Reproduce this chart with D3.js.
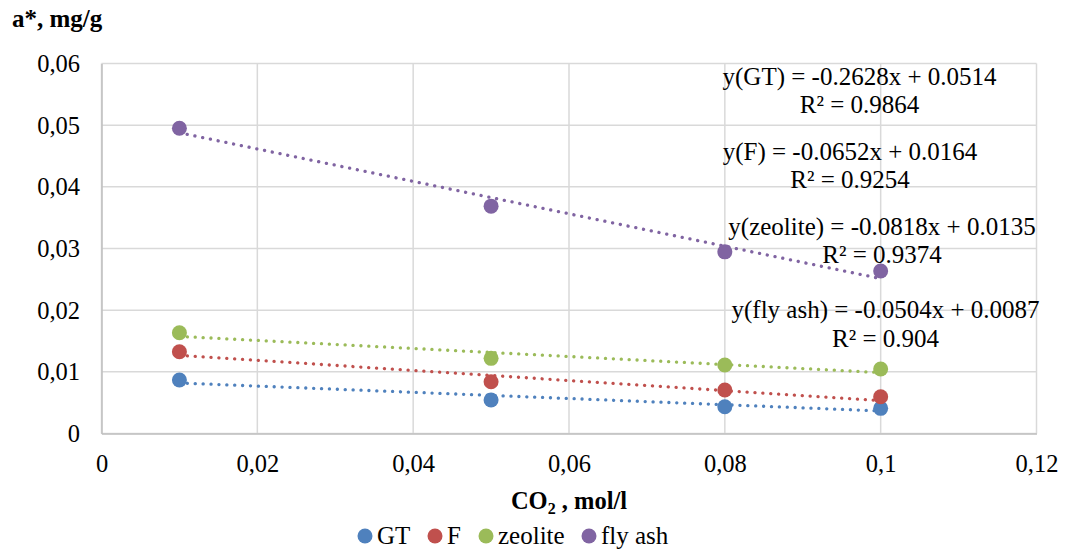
<!DOCTYPE html>
<html><head><meta charset="utf-8">
<script src="https://cdn.jsdelivr.net/npm/d3@7"></script>
<style>body{margin:0;background:#fff}svg{display:block}svg text{font-family:"Times New Roman","Liberation Serif",Times,serif !important;fill:#000}</style>
</head><body><svg id="c" width="1066" height="552"></svg>
<script>
const xValues = [0.01, 0.05, 0.08, 0.1];
const seriesNames = ["GT", "F", "zeolite", "fly ash"];
const seriesColors = ["#4f81bd", "#c0504d", "#9bbb59", "#8064a2"];
const gtValues = [0.00867, 0.00543, 0.00434, 0.00408];
const fValues = [0.01326, 0.0084, 0.00705, 0.00596];
const zeoliteValues = [0.01634, 0.01219, 0.0111, 0.01045];
const flyAshValues = [0.0495, 0.03687, 0.02946, 0.02634];
// trend lines (slope, intercept) per series, as shown in the chart labels
const trendSlopes = [-0.0504, -0.0818, -0.0652, -0.2628];
const trendIntercepts = [0.0087, 0.0135, 0.0164, 0.0514];
const xTicks = [0, 0.02, 0.04, 0.06, 0.08, 0.1, 0.12];
const yTicks = [0, 0.01, 0.02, 0.03, 0.04, 0.05, 0.06];
const eqLabels = [
  ["y(GT) = -0.2628x + 0.0514", "R² = 0.9864"],
  ["y(F) = -0.0652x + 0.0164", "R² = 0.9254"],
  ["y(zeolite) = -0.0818x + 0.0135", "R² = 0.9374"],
  ["y(fly ash) = -0.0504x + 0.0087", "R² = 0.904"]
];
const allValues = [gtValues, fValues, zeoliteValues, flyAshValues];

const svg = d3.select("#c");
const L = 101.5, R = 1036.5, T = 63.5, B = 433.5;
const x = d3.scaleLinear().domain([0, 0.12]).range([L, R]);
const y = d3.scaleLinear().domain([0, 0.06]).range([B, T]);
const fmt = v => v === 0 ? "0" : String(+v.toFixed(2)).replace(".", ",");

// grid
svg.append("g").selectAll("line").data(yTicks).join("line")
  .attr("x1", L).attr("x2", R).attr("y1", d => y(d)).attr("y2", d => y(d))
  .attr("stroke", "#d9d9d9").attr("stroke-width", 1.5);
svg.append("g").selectAll("line").data(xTicks).join("line")
  .attr("y1", T).attr("y2", B).attr("x1", d => x(d)).attr("x2", d => x(d))
  .attr("stroke", "#d9d9d9").attr("stroke-width", 1.5);
// axis lines
const xa = svg.append("g").attr("transform", `translate(0,${B})`)
  .call(d3.axisBottom(x).tickValues(xTicks).tickFormat(fmt).tickSize(0).tickPadding(21));
xa.attr("font-family", null).attr("font-size", 24.5);
xa.select(".domain").attr("stroke", "#bfbfbf").attr("stroke-width", 1.5);
const ya = svg.append("g").attr("transform", `translate(${L},0)`)
  .call(d3.axisLeft(y).tickValues(yTicks).tickFormat(fmt).tickSize(0).tickPadding(21.5));
ya.attr("font-family", null).attr("font-size", 24.5);
ya.select(".domain").attr("stroke", "#bfbfbf").attr("stroke-width", 1.5);

// trend lines
allValues.forEach((vals, i) => {
  const x0 = xValues[0], x1 = xValues[xValues.length - 1];
  svg.append("line")
    .attr("x1", x(x0)).attr("y1", y(trendSlopes[i] * x0 + trendIntercepts[i]))
    .attr("x2", x(x1)).attr("y2", y(trendSlopes[i] * x1 + trendIntercepts[i]))
    .attr("stroke", seriesColors[i]).attr("stroke-width", 3.3)
    .attr("stroke-linecap", "round").attr("stroke-dasharray", "0.1 7.8");
});
// points
allValues.forEach((vals, i) => {
  svg.append("g").selectAll("circle").data(vals).join("circle")
    .attr("cx", (d, j) => x(xValues[j])).attr("cy", d => y(d)).attr("r", 7.5)
    .attr("fill", seriesColors[i]);
});

// equation labels
const eqPos = [[859.5, 85, 113], [850, 160, 188], [882, 235, 263], [885.5, 318, 347]];
eqLabels.forEach((lab, i) => {
  svg.append("text").attr("x", eqPos[i][0]).attr("y", eqPos[i][1]).attr("text-anchor", "middle")
    .attr("font-size", 25).text(lab[0]);
  svg.append("text").attr("x", eqPos[i][0]).attr("y", eqPos[i][2]).attr("text-anchor", "middle")
    .attr("font-size", 25).text(lab[1]);
});

// titles
svg.append("text").attr("x", 12).attr("y", 27).attr("font-size", 25).attr("font-weight", "bold").text("a*, mg/g");
const xt = svg.append("text").attr("x", (L + R) / 2).attr("y", 509).attr("text-anchor", "middle")
  .attr("font-size", 24.5).attr("font-weight", "bold");
xt.append("tspan").text("CO");
xt.append("tspan").attr("font-size", 16).attr("dy", 5).text("2");
xt.append("tspan").attr("dy", -5).text(" , mol/l");

// legend
const lg = svg.append("g");
const legX = [365, 435, 486, 589];
seriesNames.forEach((n, i) => {
  lg.append("circle").attr("cx", legX[i]).attr("cy", 536).attr("r", 7.5).attr("fill", seriesColors[i]);
  lg.append("text").attr("x", legX[i] + 12).attr("y", 543.5).attr("font-size", 25).text(n);
});
</script></body></html>
